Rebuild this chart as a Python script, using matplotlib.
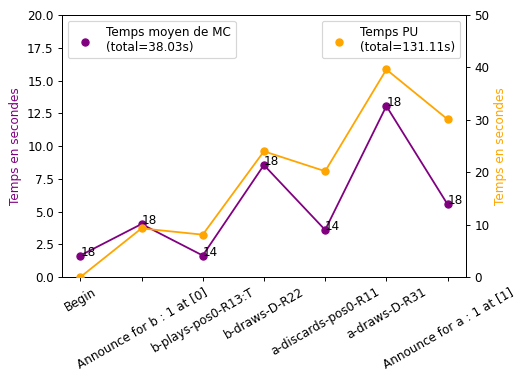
from matplotlib import pyplot as plt
import numpy as np

steps = [
    "Begin",
    "Announce for b : 1 at [0]",
    "b-plays-pos0-R13:T",
    "b-draws-D-R22",
    "a-discards-pos0-R11",
    "a-draws-D-R31",
    "Announce for a : 1 at [1]",
]
mc_time = [1.65, 4.05, 1.65, 8.55, 3.6, 13.05, 5.55]
mc_count = [18, 18, 14, 18, 14, 18, 18]
pu_time = [0.0, 9.3, 8.1, 24.0, 20.2, 39.6, 30.1]

mc_total = 38.03
pu_total = 131.11

DPI = 86

fig, ax1 = plt.subplots(figsize=(516 / DPI, 374 / DPI), dpi=DPI)
fig.subplots_adjust(left=0.120, right=0.903, top=0.960, bottom=0.259)
ax2 = ax1.twinx()

x = np.arange(len(steps))

ax1.plot(x, mc_time, color="purple")
ax1.scatter(x, mc_time, color="purple", zorder=3,
            label=f"Temps moyen de MC\n(total={mc_total:.2f}s)")
for xi, yi, n in zip(x, mc_time, mc_count):
    ax1.text(xi, yi, str(n))

ax2.plot(x, pu_time, color="orange")
ax2.scatter(x, pu_time, color="orange", zorder=3,
            label=f"Temps PU\n(total={pu_total:.2f}s)")

ax1.set_ylim(0, 20)
ax2.set_ylim(0, 50)
ax1.set_xticks(x)
ax1.set_xticklabels(steps, rotation=30)

ax1.set_ylabel("Temps en secondes", color="purple")
ax2.set_ylabel("Temps en secondes", color="orange")

ax1.legend(loc="upper left")
ax2.legend(loc="upper right")

fig.savefig("out.png", dpi=DPI)
